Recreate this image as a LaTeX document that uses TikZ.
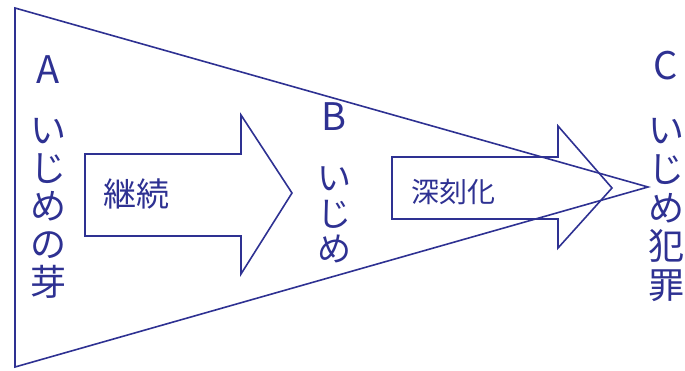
\documentclass[tikz,border=0pt]{standalone}
\usepackage{fontspec}
\newfontfamily\jp{Noto Sans CJK JP}
\definecolor{ink}{RGB}{46,49,146}
\begin{document}
\begin{tikzpicture}[x=1pt,y=-1pt,
  edge/.style={draw=ink,line width=1.6pt,line join=miter},
  lbl/.style={text=ink,inner sep=0pt,font=\jp\fontsize{38}{38}\selectfont},
  vtext/.style={text=ink,inner sep=0pt,align=center,font=\jp\fontsize{36}{38}\selectfont},
  atext/.style={text=ink,inner sep=0pt,font=\jp\fontsize{33}{33}\selectfont}]
\useasboundingbox (0,0) rectangle (685,370);
\coordinate (tl) at (15,8);
\coordinate (bl) at (15,367);
\coordinate (apex) at (648,187);
\draw[edge] (tl) -- (bl) -- (apex) -- cycle;
% arrow 1
\draw[edge] (85,154) -- (241,154) -- (241,115) -- (292,193) -- (241,274) -- (241,236) -- (85,236) -- cycle;
% arrow 2
\draw[edge] (392,157) -- (558,157) -- (558,126) -- (612,188) -- (558,248) -- (558,219) -- (392,219) -- cycle;
\node[atext] (t1) at (136,194) {継続};
\node[atext,font=\jp\fontsize{28}{28}\selectfont] (t2) at (453,192) {深刻化};
\node[lbl] (A) at (48,70) {A};
\node[vtext] (a) at (48,208) {い\\じ\\め\\の\\芽};
\node[lbl] (B) at (334,117) {B};
\node[vtext,font=\jp\fontsize{34}{35.5}\selectfont] (b) at (334,215) {い\\じ\\め};
\node[lbl] (C) at (666,66) {C};
\node[vtext,font=\jp\fontsize{36}{38.8}\selectfont] (c) at (666,210) {い\\じ\\め\\犯\\罪};
\end{tikzpicture}
\end{document}
